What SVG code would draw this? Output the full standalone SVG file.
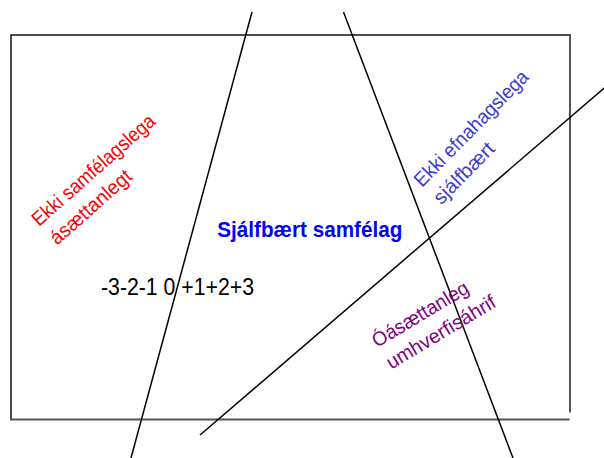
<svg xmlns="http://www.w3.org/2000/svg" width="604" height="458" viewBox="0 0 604 458">
  <style>
    .t { font-family: "Liberation Sans", Arial, sans-serif; }
    .rot { font-size: 20px; }
    .frame1 { stroke: #111; stroke-width: 1.5; fill: none; }
    .frame2 { stroke: #555; stroke-width: 2; fill: none; }
    .ln { stroke: #000; stroke-width: 1.5; fill: none; }
  </style>
  <rect width="604" height="458" fill="#fff"/>
  <g id="frame">
    <polyline class="frame1" points="11,419.5 11,35 571,35"/>
    <line class="frame2" x1="570" y1="35" x2="570" y2="412.5"/>
    <line class="frame2" x1="10" y1="419.5" x2="569.5" y2="419.5"/>
  </g>
  <g id="connectors">
    <line class="ln" x1="252" y1="12" x2="131" y2="458"/>
    <line class="ln" x1="343.5" y1="12" x2="513" y2="458"/>
    <line class="ln" x1="606" y1="86.5" x2="200" y2="435"/>
  </g>
  <g id="social" transform="translate(39,227) rotate(-41.5)">
    <text class="t rot" x="0" y="0" fill="#ff0000" textLength="157" lengthAdjust="spacingAndGlyphs">Ekki samfélagslega</text>
    <text class="t rot" x="1" y="26" fill="#ff0000" textLength="102" lengthAdjust="spacingAndGlyphs">ásættanlegt</text>
  </g>
  <g id="economic" transform="translate(422,188) rotate(-45.5)">
    <text class="t rot" x="0" y="0" fill="#3c3cd2" textLength="154" lengthAdjust="spacingAndGlyphs">Ekki efnahagslega</text>
    <text class="t rot" x="1" y="26" fill="#3c3cd2" textLength="78" lengthAdjust="spacingAndGlyphs">sjálfbært</text>
  </g>
  <g id="environment" transform="translate(377,348) rotate(-31)">
    <text class="t rot" x="0" y="0" fill="#800080" textLength="109" lengthAdjust="spacingAndGlyphs">Óásættanleg</text>
    <text class="t rot" x="1" y="26" fill="#800080" textLength="124" lengthAdjust="spacingAndGlyphs">umhverfisáhrif</text>
  </g>
  <g id="center">
    <text class="t" x="217.3" y="236.7" font-size="22.5" font-weight="bold" fill="#0000ff" textLength="185" lengthAdjust="spacingAndGlyphs">Sjálfbært samfélag</text>
  </g>
  <g id="scale">
    <text class="t" x="101" y="295" font-size="23" fill="#000" textLength="153" lengthAdjust="spacingAndGlyphs">-3-2-1 0 +1+2+3</text>
  </g>
</svg>
